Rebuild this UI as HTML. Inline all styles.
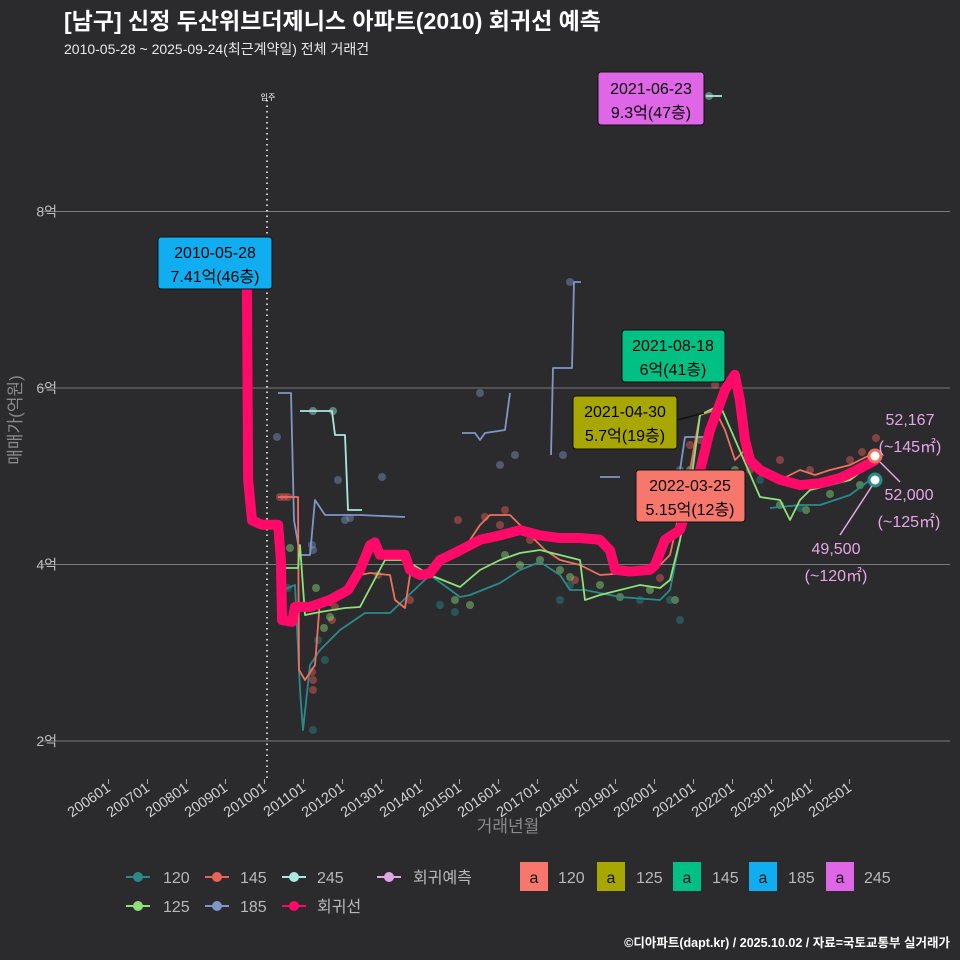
<!DOCTYPE html>
<html><head><meta charset="utf-8">
<style>
html,body{margin:0;padding:0;background:#2b2b2d;}
body{width:960px;height:960px;overflow:hidden;position:relative;font-family:"Liberation Sans","Noto Sans CJK KR",sans-serif;}
svg{display:block;}
text{font-family:"Liberation Sans","Noto Sans CJK KR",sans-serif;}
</style></head>
<body>
<svg id="chart" width="960" height="960" xmlns="http://www.w3.org/2000/svg">
<rect width="960" height="960" fill="#2b2b2d"/>
<text x="64" y="29" fill="#ffffff" font-size="23" font-weight="bold">[남구] 신정 두산위브더제니스 아파트(2010) 회귀선 예측</text>
<text x="64" y="54" fill="#e8e8e8" font-size="14">2010-05-28 ~ 2025-09-24(최근계약일) 전체 거래건</text>
<g id="grid"></g>
<g id="series"></g>
<g id="labels"></g>
<text transform="translate(21,420) rotate(-90)" text-anchor="middle" fill="#8a8a8a" font-size="17">매매가(억원)</text>
<text x="508" y="832" text-anchor="middle" fill="#8a8a8a" font-size="17">거래년월</text>
<g id="legend"></g>
<text x="950" y="947" text-anchor="end" fill="#ffffff" font-size="12.5" font-weight="bold">©디아파트(dapt.kr) / 2025.10.02 / 자료=국토교통부 실거래가</text>
</svg>
<script>
const yTicks = [2, 4, 6, 8];
const xTickLabels = ['200601','200701','200801','200901','201001','201101','201201','201301','201401','201501','201601','201701','201801','201901','202001','202101','202201','202301','202401','202501'];
const regT = [2009.55,2009.58,2009.68,2009.94,2010.35,2010.42,2010.45,2010.71,2010.78,2011.17,2011.68,2012.14,2012.45,2012.71,2012.83,2012.96,2013.35,2013.60,2013.73,2013.99,2014.24,2014.50,2015.01,2015.53,2016.04,2016.55,2017.06,2017.58,2018.09,2018.60,2018.86,2018.99,2019.37,2019.88,2020.01,2020.27,2020.65,2020.91,2021.17,2021.42,2021.81,2022.06,2022.19,2022.32,2022.45,2022.71,2023.22,2023.73,2024.24,2024.76,2025.27,2025.65];
const regV = [7.11,4.96,4.50,4.45,4.45,4.05,3.37,3.35,3.52,3.52,3.60,3.71,3.94,4.22,4.25,4.11,4.11,4.11,3.94,3.88,3.90,4.05,4.16,4.28,4.33,4.39,4.33,4.30,4.30,4.28,4.16,3.94,3.92,3.94,3.99,4.28,4.39,4.73,5.07,5.52,5.98,6.15,5.86,5.41,5.18,5.07,4.96,4.90,4.92,4.98,5.09,5.18];
const s145 = [[278,497],[298,497],[299,670],[305,680],[315,665],[320,600],[330,605],[345,590],[360,575],[370,573],[390,575],[395,600],[405,608],[410,575],[430,572],[440,562],[460,555],[480,525],[490,515],[510,515],[520,525],[530,535],[545,550],[560,560],[580,565],[600,575],[640,572],[660,565],[670,555],[680,510],[690,470],[700,415],[715,410],[725,430],[735,460],[745,450],[760,475],[780,480],[800,470],[815,475],[830,470],[850,465],[870,455]];
const s125 = [[280,568],[298,568],[300,545],[305,615],[320,612],[345,608],[360,607],[385,560],[405,560],[430,575],[460,587],[480,570],[500,560],[520,553],[540,550],[560,555],[580,560],[585,600],[600,595],[620,590],[640,585],[660,588],[670,580],[680,540],[690,490],[700,415],[720,405],[760,497],[780,500],[790,520],[800,500],[810,490],[830,485],[850,480],[870,465]];
const s120 = [[278,592],[295,585],[300,690],[303,730],[310,665],[320,650],[340,630],[365,613],[390,613],[430,575],[460,597],[470,595],[500,583],[520,570],[540,562],[560,575],[570,590],[585,590],[620,597],[660,600],[670,590],[680,540],[690,480],[700,415],[715,410]];
const s120b = [[770,508],[800,505],[820,505],[850,495],[870,480]];
const s185a = [[278,393],[291,393],[294,520],[300,555],[310,555],[315,500],[325,515],[360,515],[405,517]];
const s185b = [[462,433],[475,433],[480,440],[485,433],[505,430],[510,393]];
const s185c = [[551,455],[553,368],[572,368],[574,282],[581,282]];
const s185d = [[600,477],[620,477]];
const s185e = [[670,475],[680,470],[685,437],[705,437]];
const s245a = [[300,411],[332,411],[335,435],[345,435],[348,510],[362,510]];
const s245b = [[706,96],[722,96]];
const dots145 = [[280,497],[284,497],[288,497],[313,680],[313,690],[312,672],[332,620],[335,607],[378,575],[410,600],[458,520],[485,517],[500,525],[505,510],[530,540],[552,537],[575,580],[640,570],[660,578],[690,445],[700,440],[715,385],[750,470],[780,460],[810,470],[850,460],[862,452],[876,438]];
const dots125 = [[290,548],[316,588],[324,628],[330,617],[420,575],[455,600],[470,605],[505,555],[520,565],[540,560],[560,570],[570,577],[600,585],[620,597],[650,590],[675,600],[690,470],[735,470],[780,505],[806,510],[830,494],[860,485]];
const dots120 = [[288,588],[313,730],[318,640],[325,660],[440,605],[455,612],[560,600],[570,585],[640,600],[670,600],[680,620],[695,515],[760,480],[800,508]];
const dots185 = [[277,437],[312,545],[313,550],[338,480],[345,520],[350,518],[382,477],[480,393],[500,465],[515,455],[563,455],[570,282],[680,470],[700,470]];
const dots245 = [[313,411],[333,411],[709,96]];

const X0 = 108.5, PXY = 39.0, Y0 = 741, PXV = 88.25;
function xs(t){ return X0 + (t-2006)*PXY; }
function ys(v){ return Y0 - (v-2)*PXV; }
const NS = 'http://www.w3.org/2000/svg';
function mk(tag, attrs, parent){ const e=document.createElementNS(NS,tag); for(const k in attrs) e.setAttribute(k, attrs[k]); parent.appendChild(e); return e; }
const grid = document.getElementById('grid');
yTicks.forEach(v=>{
  const l = mk('line',{x1:40,x2:950,y1:ys(v),y2:ys(v),stroke:'#7a7a7a','stroke-width':1},grid);
  
  
  const t = mk('text',{x:57,y:ys(v)+5,'text-anchor':'end',fill:'#bdbdbd','font-size':14},grid);
  t.textContent = v+'억';
  
  
});
xTickLabels.forEach((lab,i)=>{
  const x = xs(2006+i);
  mk('line',{x1:x,x2:x,y1:779,y2:784,stroke:'#aaaaaa'},grid);
  const t = mk('text',{transform:`translate(${x+3},${790}) rotate(-35)`,'text-anchor':'end',fill:'#d0d0d0','font-size':14.5},grid);
  t.textContent = lab;
  
  
});
const vl = mk('line',{x1:267,x2:267,y1:100,y2:780,stroke:'#cccccc','stroke-width':2,'stroke-dasharray':'1.5 4'},grid);


const vt = mk('text',{x:268,y:100,'text-anchor':'middle',fill:'#ffffff','font-size':8},grid);
vt.textContent='입주';



const ser = document.getElementById('series');
function dots(arr,color,name){ arr.forEach(p=>{ const c=mk('circle',{cx:p[0],cy:p[1],r:4,fill:color,opacity:0.45},ser);   }); }
function path(arr,color,w,name){ const p=mk('polyline',{points:arr.map(p=>p.join(',')).join(' '),fill:'none',stroke:color,'stroke-width':w,'stroke-linejoin':'round'},ser);   }
dots(dots185,'#7f96c6','dot-185'); dots(dots145,'#e8625a','dot-145'); dots(dots125,'#8fe07a','dot-125'); dots(dots120,'#2a8a8a','dot-120'); dots(dots245,'#a8e8e0','dot-245');
path(s185a,'#7f96c6',1.8,'line-185'); path(s185b,'#7f96c6',1.8,'line-185'); path(s185c,'#7f96c6',1.8,'line-185'); path(s185d,'#7f96c6',1.8,'line-185'); path(s185e,'#7f96c6',1.8,'line-185');
path(s245a,'#a8e8e0',1.8,'line-245'); path(s245b,'#a8e8e0',1.8,'line-245');
path(s120,'#2a8a8a',1.8,'line-120'); path(s120b,'#2a8a8a',1.8,'line-120');
path(s145,'#f0705f',1.8,'line-145');
path(s125,'#8fe07a',1.8,'line-125');
const reg = mk('polyline',{points:regT.map((t,i)=>xs(t)+','+ys(regV[i])).join(' '),fill:'none',stroke:'#ff0a68','stroke-width':10,'stroke-linejoin':'round','stroke-linecap':'round'},ser);


[[875,456,'#f0705f'],[875,480,'#2a8a8a']].forEach(p=>{ const c=mk('circle',{cx:p[0],cy:p[1],r:6,fill:'#fff',stroke:p[2],'stroke-width':3},ser);   });
</script>
<svg style="position:absolute;left:0;top:0" width="960" height="960" xmlns="http://www.w3.org/2000/svg">
<g font-size="16" text-anchor="middle">
 <g><rect x="158" y="237" width="114" height="52" rx="3" fill="#10aef0" stroke="#111"/><text x="215" y="258">2010-05-28</text><text x="215" y="282">7.41억(46층)</text></g>
 <g><rect x="598" y="72" width="106" height="53" rx="3" fill="#e066e8" stroke="#111"/><text x="651" y="94">2021-06-23</text><text x="651" y="118">9.3억(47층)</text></g>
 <g><rect x="622" y="330" width="103" height="52" rx="3" fill="#00c084" stroke="#111"/><text x="673" y="351">2021-08-18</text><text x="673" y="375">6억(41층)</text></g>
 <line x1="677" y1="420" x2="704" y2="413" stroke="#111" stroke-width="1.5"/>
 <g><rect x="573" y="396" width="104" height="53" rx="3" fill="#a8a600" stroke="#111"/><text x="625" y="417">2021-04-30</text><text x="625" y="441">5.7억(19층)</text></g>
 <g><rect x="636" y="470" width="109" height="52" rx="3" fill="#f8776d" stroke="#111"/><text x="690" y="491">2022-03-25</text><text x="690" y="515">5.15억(12층)</text></g>
</g>
<g fill="#e6a6e6" font-size="16" text-anchor="middle">
 <text x="910" y="425">52,167</text><text x="910" y="452">(~145㎡)</text>
 <text x="909" y="500">52,000</text><text x="909" y="527">(~125㎡)</text>
 <text x="836" y="554">49,500</text><text x="836" y="581">(~120㎡)</text>
 <line x1="880" y1="462" x2="900" y2="482" stroke="#e6a6e6" stroke-width="1.5"/>
 <line x1="872" y1="486" x2="840" y2="535" stroke="#e6a6e6" stroke-width="1.5"/>
</g>
<g font-size="16" fill="#b8b8b8">
 <g><line x1="126" x2="150" y1="877" y2="877" stroke="#2a8a8a" stroke-width="2"/><circle cx="138" cy="877" r="5" fill="#2a8a8a"/><text x="163" y="883">120</text></g>
 <g><line x1="205" x2="229" y1="877" y2="877" stroke="#e8625a" stroke-width="2"/><circle cx="217" cy="877" r="5" fill="#e8625a"/><text x="240" y="883">145</text></g>
 <g><line x1="282" x2="306" y1="877" y2="877" stroke="#a8e8e0" stroke-width="2"/><circle cx="294" cy="877" r="5" fill="#a8e8e0"/><text x="317" y="883">245</text></g>
 <g><line x1="377" x2="401" y1="877" y2="877" stroke="#e0a6e6" stroke-width="2"/><circle cx="389" cy="877" r="5" fill="#e0a6e6"/><text x="413" y="883">회귀예측</text></g>
 <g><line x1="126" x2="150" y1="906" y2="906" stroke="#8fe07a" stroke-width="2"/><circle cx="138" cy="906" r="5" fill="#8fe07a"/><text x="163" y="912">125</text></g>
 <g><line x1="205" x2="229" y1="906" y2="906" stroke="#7f96c6" stroke-width="2"/><circle cx="217" cy="906" r="5" fill="#7f96c6"/><text x="240" y="912">185</text></g>
 <g><line x1="282" x2="306" y1="906" y2="906" stroke="#ff0a68" stroke-width="2"/><circle cx="294" cy="906" r="5" fill="#ff0a68"/><text x="317" y="912">회귀선</text></g>
 <g><rect x="520" y="862" width="28" height="29" fill="#f8776d"/><text x="534" y="883" fill="#111" text-anchor="middle">a</text><text x="558" y="883">120</text></g>
 <g><rect x="597" y="862" width="28" height="29" fill="#a8a600"/><text x="611" y="883" fill="#111" text-anchor="middle">a</text><text x="636" y="883">125</text></g>
 <g><rect x="673" y="862" width="28" height="29" fill="#00c084"/><text x="687" y="883" fill="#111" text-anchor="middle">a</text><text x="712" y="883">145</text></g>
 <g><rect x="749" y="862" width="28" height="29" fill="#10aef0"/><text x="763" y="883" fill="#111" text-anchor="middle">a</text><text x="788" y="883">185</text></g>
 <g><rect x="826" y="862" width="28" height="29" fill="#e066e8"/><text x="840" y="883" fill="#111" text-anchor="middle">a</text><text x="864" y="883">245</text></g>
</g>
</svg>
</body></html>
